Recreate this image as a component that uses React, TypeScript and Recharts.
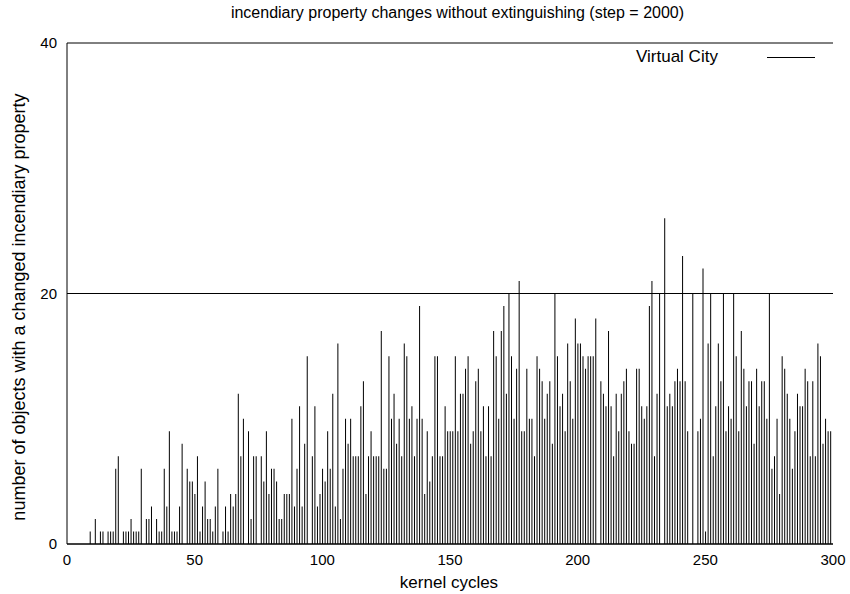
import { BarChart, Bar, XAxis, YAxis, CartesianGrid } from "recharts"

// kernel cycle (step = 2000) and number of objects whose incendiary property changed
const cycles = [
  9, 11, 13, 14, 16, 17, 18, 19, 20, 22, 23, 24, 25, 26, 27, 28, 29, 31,
  32, 33, 35, 36, 37, 38, 39, 40, 41, 42, 43, 44, 45, 47, 48, 49, 50, 51, 52, 53, 54, 55, 56,
  57, 58, 59, 61, 62, 63, 64, 65, 66, 67, 68, 69, 71, 72, 73, 74, 76, 77, 78, 79, 80,
  81, 82, 83, 84, 85, 86, 87, 88, 89, 90, 91, 92, 93, 94, 96, 97, 98, 99, 100, 101, 102, 103, 104, 105,
  106, 107, 108, 109, 110, 111, 112, 113, 114, 115, 116, 117, 118, 119, 120, 121, 122, 123, 124, 125, 126, 127, 128, 129, 130,
  131, 132, 133, 134, 135, 136, 137, 138, 139, 140, 141, 142, 143, 144, 145, 146, 147, 148, 149, 150, 151, 152, 153, 154,
  155, 156, 157, 158, 159, 160, 161, 162, 163, 164, 165, 166, 167, 168, 169, 170, 171, 172, 173, 174, 175, 176, 177, 178, 179,
  180, 181, 182, 183, 184, 185, 186, 187, 188, 189, 190, 191, 192, 193, 194, 195, 196, 197, 198, 199, 200, 201, 202, 203, 204,
  205, 206, 207, 209, 210, 211, 212, 213, 214, 215, 216, 217, 218, 219, 220, 221, 222, 223, 224, 225, 226, 227, 228,
  229, 230, 231, 232, 234, 235, 236, 237, 238, 239, 240, 241, 242, 243, 245, 247, 248, 249, 250, 251, 252, 253,
  254, 255, 256, 257, 258, 259, 260, 261, 262, 263, 264, 265, 266, 267, 268, 269, 270, 271, 272, 273, 274, 275, 276, 277, 278,
  279, 280, 281, 282, 283, 284, 285, 286, 287, 288, 289, 290, 291, 292, 293, 294, 295, 296, 297, 298, 299,
]

const counts = [
  1, 2, 1, 1, 1, 1, 1, 6, 7, 1, 1, 1, 2, 1, 1, 1, 6, 2,
  2, 3, 2, 1, 1, 6, 3, 9, 1, 1, 1, 3, 8, 6, 5, 5, 4, 7, 1, 3, 5, 2, 2,
  1, 3, 6, 1, 3, 1, 4, 3, 4, 12, 7, 10, 9, 2, 7, 7, 7, 5, 9, 4, 6,
  6, 5, 2, 2, 4, 4, 4, 10, 3, 6, 11, 3, 8, 15, 7, 11, 3, 4, 6, 5, 9, 6, 12, 3,
  16, 2, 6, 10, 8, 10, 7, 7, 7, 11, 13, 4, 7, 9, 7, 7, 7, 17, 6, 6, 15, 10, 12, 8, 10,
  7, 16, 15, 10, 11, 7, 10, 19, 10, 4, 9, 5, 7, 15, 15, 7, 7, 11, 9, 9, 9, 15, 9, 12,
  12, 14, 15, 8, 9, 13, 14, 9, 11, 7, 11, 7, 17, 15, 10, 17, 19, 12, 20, 15, 10, 14, 21, 9, 9,
  14, 10, 10, 7, 15, 14, 13, 10, 12, 13, 8, 20, 15, 11, 12, 9, 16, 13, 10, 18, 16, 16, 15, 14, 15,
  15, 15, 18, 13, 12, 11, 17, 11, 7, 12, 9, 12, 13, 14, 9, 8, 8, 14, 14, 11, 10, 11, 19,
  21, 7, 12, 20, 26, 11, 12, 11, 13, 14, 13, 23, 13, 9, 20, 9, 10, 22, 1, 16, 20, 7,
  11, 16, 13, 20, 9, 11, 10, 20, 15, 9, 17, 14, 11, 13, 13, 8, 14, 11, 13, 13, 10, 20, 6, 7, 10,
  4, 15, 14, 12, 10, 6, 9, 12, 11, 11, 14, 13, 7, 13, 7, 16, 15, 8, 10, 9, 9,
]

const xTicks = [0, 50, 100, 150, 200, 250, 300]
const yTicks = [0, 20, 40]

const data = cycles.map((c, i) => ({ cycle: c, count: counts[i] }))

const FONT = "'Liberation Sans', Arial, Helvetica, sans-serif"

export default function App() {
  return (
    <div style={{ position: "absolute", left: 0, top: 0, width: 850, height: 594, background: "#fff", fontFamily: FONT }}>
      <BarChart
        width={850}
        height={594}
        data={data}
        margin={{ top: 43, right: 17, bottom: 0, left: 10 }}
      >
        <CartesianGrid vertical={false} stroke="#000" strokeWidth={1} />
        <XAxis
          dataKey="cycle"
          type="number"
          domain={[0, 300]}
          ticks={xTicks}
          tickLine={false}
          axisLine={{ stroke: "#000" }}
          tick={{ fill: "#000", fontSize: 15, fontFamily: FONT }}
          tickMargin={4}
          height={50}
          allowDataOverflow
        />
        <XAxis
          xAxisId="top"
          orientation="top"
          type="number"
          domain={[0, 300]}
          tick={false}
          tickLine={false}
          axisLine={{ stroke: "#000" }}
          height={0}
        />
        <YAxis
          type="number"
          domain={[0, 40]}
          ticks={yTicks}
          tickLine={false}
          axisLine={{ stroke: "#000" }}
          tick={{ fill: "#000", fontSize: 15, fontFamily: FONT }}
          tickMargin={4}
          width={57}
        />
        <YAxis
          yAxisId="right"
          orientation="right"
          type="number"
          domain={[0, 40]}
          tick={false}
          tickLine={false}
          axisLine={{ stroke: "#000" }}
          width={0}
        />
        <Bar dataKey="count" fill="#000" barSize={1} isAnimationActive={false} />
      </BarChart>

      <div style={{ position: "absolute", left: 0, top: 4, width: 915, textAlign: "center", fontSize: 16, color: "#000", whiteSpace: "nowrap" }}>
        incendiary property changes without extinguishing (step = 2000)
      </div>
      <div style={{ position: "absolute", left: 0, top: 573, width: 898, textAlign: "center", fontSize: 17, color: "#000", whiteSpace: "nowrap" }}>
        kernel cycles
      </div>
      <div
        style={{
          position: "absolute",
          left: 19,
          top: 307,
          transform: "translate(-50%, -50%) rotate(-90deg)",
          whiteSpace: "nowrap",
          fontSize: 18,
          color: "#000",
        }}
      >
        number of objects with a changed incendiary property
      </div>
      <div style={{ position: "absolute", left: 636, top: 47, fontSize: 17, color: "#000", whiteSpace: "nowrap" }}>
        Virtual City
      </div>
      <div style={{ position: "absolute", left: 767, top: 57, width: 48, height: 1, background: "#000" }} />
    </div>
  )
}
